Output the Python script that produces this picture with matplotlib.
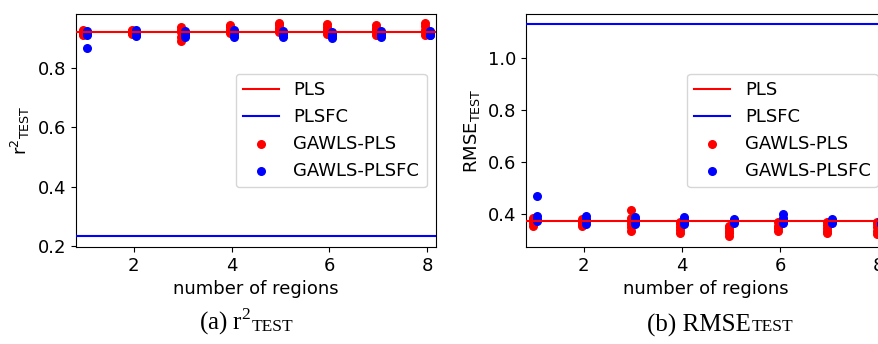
import numpy as np
import matplotlib
matplotlib.use("Agg")
import matplotlib.pyplot as plt

regions = [1, 2, 3, 4, 5, 6, 7, 8]

# r2 on the test set
r2_pls = 0.921
r2_plsfc = 0.233
r2_gawls_pls = [
    [0.930, 0.925, 0.920, 0.916, 0.913],
    [0.928, 0.924, 0.921, 0.918, 0.915],
    [0.940, 0.930, 0.920, 0.905, 0.893],
    [0.945, 0.938, 0.930, 0.922, 0.918],
    [0.953, 0.945, 0.935, 0.925, 0.920],
    [0.948, 0.940, 0.930, 0.922, 0.915],
    [0.945, 0.936, 0.928, 0.920, 0.913],
    [0.952, 0.942, 0.930, 0.920, 0.912],
]
r2_gawls_plsfc = [
    [0.925, 0.918, 0.910, 0.867],
    [0.928, 0.920, 0.913, 0.908],
    [0.926, 0.918, 0.912, 0.905],
    [0.927, 0.920, 0.912, 0.905],
    [0.925, 0.918, 0.910, 0.905],
    [0.922, 0.915, 0.908, 0.902],
    [0.926, 0.918, 0.910, 0.906],
    [0.925, 0.920, 0.913, 0.910],
]

# RMSE on the test set
rmse_pls = 0.374
rmse_plsfc = 1.132
rmse_gawls_pls = [
    [0.385, 0.375, 0.365, 0.355],
    [0.380, 0.370, 0.362, 0.355],
    [0.415, 0.385, 0.372, 0.360, 0.348, 0.335],
    [0.370, 0.360, 0.348, 0.337, 0.325],
    [0.355, 0.345, 0.335, 0.325, 0.315],
    [0.368, 0.355, 0.345, 0.335],
    [0.370, 0.358, 0.347, 0.336, 0.327],
    [0.370, 0.360, 0.348, 0.335, 0.322],
]
rmse_gawls_plsfc = [
    [0.468, 0.392, 0.382, 0.372],
    [0.392, 0.382, 0.372, 0.360],
    [0.390, 0.380, 0.370, 0.360],
    [0.388, 0.378, 0.368, 0.360],
    [0.380, 0.372, 0.365],
    [0.400, 0.385, 0.373, 0.365],
    [0.382, 0.373, 0.365],
    [0.375, 0.368, 0.362],
]

plt.rcParams['font.size'] = 13


def flatten(groups, shift):
    xs = np.concatenate([[r + shift] * len(g) for r, g in zip(regions, groups)])
    ys = np.concatenate(groups)
    return xs, ys


def panel(ax, pls, plsfc, ga_pls, ga_plsfc, ylabel):
    h1 = ax.axhline(pls, color='red', lw=1.5, zorder=3, label='PLS')
    h2 = ax.axhline(plsfc, color='blue', lw=1.5, zorder=3, label='PLSFC')
    x, y = flatten(ga_pls, -0.04)
    h3 = ax.scatter(x, y, s=30, color='red', zorder=2, label='GAWLS-PLS')
    x, y = flatten(ga_plsfc, 0.05)
    h4 = ax.scatter(x, y, s=30, color='blue', zorder=2, label='GAWLS-PLSFC')
    ax.set_xticks([2, 4, 6, 8])
    ax.set_xlim(0.82, 8.17)
    ax.set_xlabel('number of regions')
    ax.set_ylabel(ylabel)
    ax.legend(handles=[h1, h2, h3, h4], loc='center right', fontsize=13)


fig = plt.figure(figsize=(8.79, 3.44), dpi=100)
ax1 = fig.add_axes([0.0865, 0.282, 0.409, 0.677])
ax2 = fig.add_axes([0.598, 0.282, 0.411, 0.677])

panel(ax1, r2_pls, r2_plsfc, r2_gawls_pls, r2_gawls_plsfc,
      r'r$^2$$_\mathregular{TEST}$')
ax1.set_ylim(0.197, 0.982)
ax1.set_yticks([0.2, 0.4, 0.6, 0.8])

panel(ax2, rmse_pls, rmse_plsfc, rmse_gawls_pls, rmse_gawls_plsfc,
      r'RMSE$_\mathregular{TEST}$')
ax2.set_ylim(0.273, 1.169)
ax2.set_yticks([0.4, 0.6, 0.8, 1.0])

# sub-figure captions, with a smaller "TEST" set on the baseline
serif = 'Liberation Serif'
for x0, main in [(0.226, r'(a) r$^\mathregular{2}$'), (0.736, '(b) RMSE')]:
    t = fig.text(x0, 0.02, main, family=serif, fontsize=18, va='bottom')
    ax1.annotate('TEST', xy=(1, 0), xycoords=t, xytext=(0.5, 1.3),
                 textcoords='offset points', family=serif, fontsize=12.5,
                 va='bottom', annotation_clip=False)

fig.savefig('out.png', dpi=100)
